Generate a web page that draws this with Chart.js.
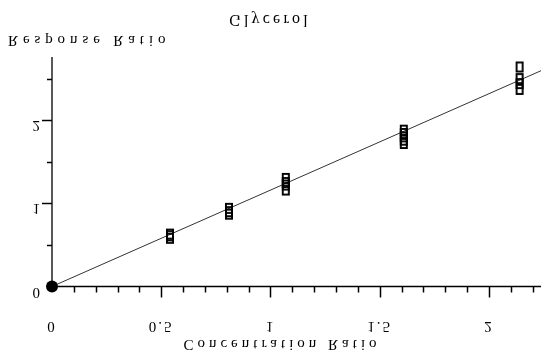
<!DOCTYPE html>
<html>
<head>
<meta charset="utf-8">
<script src="https://cdn.jsdelivr.net/npm/chart.js@4"></script>
<style>
html,body{margin:0;padding:0;background:#fff;}
#wrap{width:541px;height:352px;}
</style>
</head>
<body>
<div id="wrap"><canvas id="c" width="541" height="352"></canvas></div>
<script>
// ---- data ----
const titleText = "Glycerol";
const xTitle = "Concentration Ratio";
const yTitle = "Response Ratio";
const xTickLabels = [0, 0.5, 1, 1.5, 2];
const yTickLabels = [0, 1, 2];
const xMinorStep = 0.1;
const yMinorStep = 0.5;
const xMax = 2.238;
const yMax = 2.76;

const concX = [0.54, 0.54, 0.54,
               0.81, 0.81, 0.81,
               1.07, 1.07, 1.07, 1.07,
               1.61, 1.61, 1.61, 1.61, 1.61,
               2.14, 2.14, 2.14, 2.14];
const respY = [0.58, 0.61, 0.63,
               0.87, 0.90, 0.94,
               1.16, 1.22, 1.25, 1.30,
               1.72, 1.76, 1.80, 1.84, 1.88,
               2.37, 2.44, 2.50, 2.64];
const fitX = [0, 2.238];
const fitY = [0, 2.595];
const originX = [0];
const originY = [0];

// box point style
function boxStyle(w, h, lw) {
  const c = document.createElement('canvas');
  c.width = w + 2; c.height = h + 2;
  const g = c.getContext('2d');
  g.strokeStyle = '#000';
  g.lineWidth = lw;
  g.strokeRect(1 + lw/2, 1 + lw/2, w - lw, h - lw);
  return c;
}
const box = boxStyle(8, 11, 1.9);

const toPts = (xs, ys) => xs.map((x, i) => ({x: x, y: ys[i]}));

const SERIF = '"Liberation Serif", "DejaVu Serif", serif';

function flippedText(ctx, text, x, y, size, spacing, align) {
  ctx.save();
  ctx.font = size + 'px ' + SERIF;
  ctx.letterSpacing = spacing + 'px';
  ctx.fillStyle = '#000';
  ctx.textBaseline = 'middle';
  ctx.textAlign = align || 'center';
  ctx.translate(x, y);
  ctx.scale(1, -1);
  ctx.fillText(text, 0, 0);
  ctx.restore();
}

const axesPlugin = {
  id: 'axesPlugin',
  afterDatasetsDraw(chart) {
    const ctx = chart.ctx;
    const xs = chart.scales.x, ys = chart.scales.y;
    const x0 = xs.getPixelForValue(0), y0 = ys.getPixelForValue(0);
    ctx.save();
    ctx.strokeStyle = '#000';
    ctx.lineWidth = 1.3;
    ctx.beginPath();
    ctx.moveTo(x0, y0); ctx.lineTo(chart.width, y0);
    ctx.moveTo(x0, y0); ctx.lineTo(x0, ys.getPixelForValue(yMax));
    ctx.stroke();
    ctx.lineWidth = 1.5;
    // x ticks
    for (let v = xMinorStep; v <= xMax + 1e-9; v += xMinorStep) {
      const vv = Math.round(v * 10) / 10;
      const major = xTickLabels.some(t => Math.abs(t - vv) < 1e-6);
      const px = Math.round(xs.getPixelForValue(vv)) + 0.5;
      ctx.beginPath();
      ctx.moveTo(px, y0); ctx.lineTo(px, y0 + (major ? 11 : 6));
      ctx.stroke();
    }
    // y ticks
    for (let v = yMinorStep; v <= yMax + 1e-9; v += yMinorStep) {
      const major = yTickLabels.some(t => Math.abs(t - v) < 1e-6);
      const py = Math.round(ys.getPixelForValue(v)) + 0.5;
      ctx.beginPath();
      ctx.moveTo(x0, py); ctx.lineTo(x0 - (major ? 10 : 5), py);
      ctx.stroke();
    }
    ctx.restore();
    // labels (vertically mirrored as in reference)
    xTickLabels.forEach(t => {
      flippedText(ctx, String(t), xs.getPixelForValue(t), 326, 15, 2, 'center');
    });
    yTickLabels.forEach(t => {
      flippedText(ctx, String(t), 40, ys.getPixelForValue(t) + 5, 15, 0, 'right');
    });
    flippedText(ctx, titleText, 270, 19, 16, 3.2, 'center');
    flippedText(ctx, yTitle, 8, 40, 15, 4.9, 'left');
    flippedText(ctx, xTitle, 282, 344, 15, 4, 'center');
  }
};

new Chart(document.getElementById('c'), {
  type: 'scatter',
  data: {
    datasets: [
      {
        type: 'line',
        data: toPts(fitX, fitY),
        borderColor: '#333',
        borderWidth: 1,
        pointRadius: 0,
        fill: false,
        order: 3
      },
      {
        data: toPts(concX, respY),
        pointStyle: box,
        pointRadius: 6,
        order: 2
      },
      {
        data: toPts(originX, originY),
        pointStyle: 'circle',
        pointRadius: 6,
        backgroundColor: '#000',
        borderColor: '#000',
        borderWidth: 0,
        order: 1
      }
    ]
  },
  options: {
    responsive: false,
    animation: false,
    events: [],
    layout: { autoPadding: false, padding: { left: 52, top: 57, right: 0, bottom: 65.5 } },
    plugins: { legend: { display: false }, tooltip: { enabled: false }, title: { display: false } },
    scales: {
      x: { type: 'linear', min: 0, max: xMax, display: false },
      y: { type: 'linear', min: 0, max: yMax, display: false }
    },
    clip: false
  },
  plugins: [axesPlugin]
});
</script>
</body>
</html>
